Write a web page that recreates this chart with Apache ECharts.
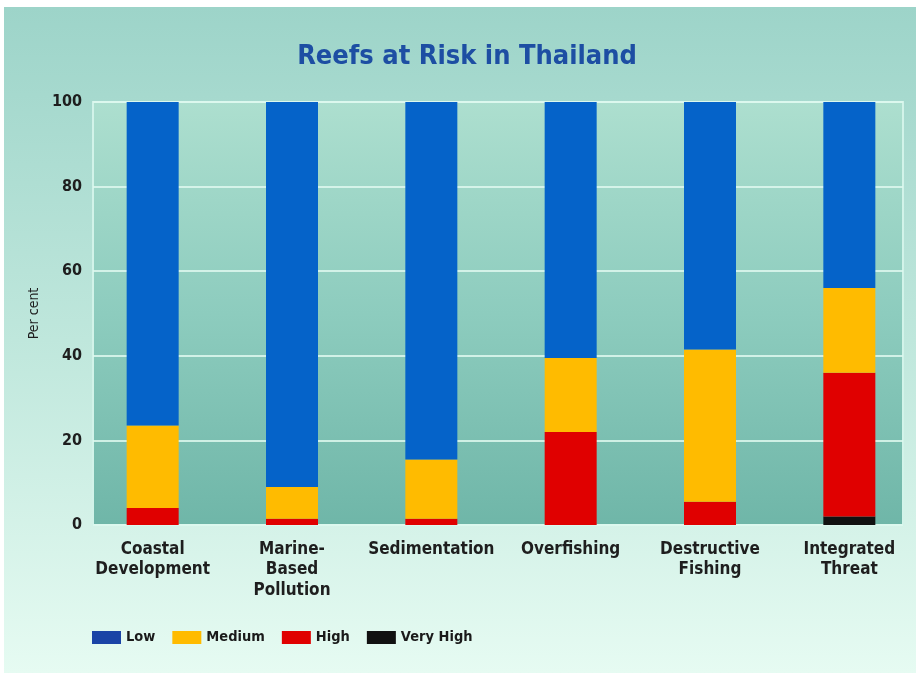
<!DOCTYPE html>
<html>
<head>
<meta charset="utf-8">
<script src="https://cdn.jsdelivr.net/npm/echarts@6/dist/echarts.min.js"></script>
<style>
  html, body { margin: 0; padding: 0; background: #ffffff; }
  #chart { width: 919px; height: 677px; }
</style>
</head>
<body>
<div id="chart"></div>
<script>
// Threat categories along the x axis
const categories = [
  'Coastal\nDevelopment',
  'Marine-\nBased\nPollution',
  'Sedimentation',
  'Overfishing',
  'Destructive\nFishing',
  'Integrated\nThreat'
];

// Share of reefs (per cent) at each risk level
const veryHigh = [0, 0, 0, 0, 0, 2];
const high     = [4, 1.5, 1.5, 22, 5.5, 34];
const medium   = [19.5, 7.5, 14, 17.5, 36, 20];
const low      = [76.5, 91, 84.5, 60.5, 58.5, 44];

const yTicks = [0, 20, 40, 60, 80, 100];

const FONT = '"Liberation Sans Narrow", "DejaVu Sans Condensed", "Liberation Sans", sans-serif';

const chart = echarts.init(document.getElementById('chart'), null, { renderer: 'canvas' });

const grad = (stops) => new echarts.graphic.LinearGradient(0, 0, 0, 1,
  stops.map(([offset, color]) => ({ offset, color })));

chart.setOption({
  backgroundColor: '#ffffff',
  animation: false,
  graphic: [{
    type: 'rect',
    z: -10,
    shape: { x: 4, y: 7, width: 912, height: 666 },
    style: { fill: grad([[0, '#9dd4c9'], [0.5, '#bfe7dc'], [1, '#e6fbf2']]) },
    silent: true
  }],
  title: {
    text: 'Reefs at Risk in Thailand',
    left: 462,
    textAlign: 'center',
    top: 38,
    textStyle: { fontFamily: FONT, fontSize: 27, fontWeight: 'bold', color: '#1d4ea3' }
  },
  legend: {
    left: 92,
    top: 630,
    padding: 0,
    itemWidth: 29,
    itemHeight: 13,
    itemGap: 17,
    icon: 'rect',
    textStyle: { fontFamily: FONT, fontSize: 14.5, fontWeight: 'bold', color: '#1a1a1a' },
    data: [
      { name: 'Low', itemStyle: { color: '#1a44a6' } },
      { name: 'Medium' },
      { name: 'High' },
      { name: 'Very High' }
    ]
  },
  grid: [
    // panel carrying the value scale and its gridlines
    {
      left: 93, top: 102, width: 810, height: 423,
      show: true,
      backgroundColor: grad([[0, '#addfcf'], [0.5, '#8dccbe'], [1, '#6fb6a8']]),
      borderColor: '#d2f3e9',
      borderWidth: 2
    },
    // bar band layout
    { left: 83, top: 102, width: 836, height: 423 }
  ],
  xAxis: [
    { gridIndex: 0, type: 'value', show: false, min: 0, max: 1 },
    {
      gridIndex: 1,
      type: 'category',
      data: categories,
      axisLine: { show: false },
      axisTick: { show: false },
      axisLabel: {
        margin: 14,
        interval: 0,
        fontFamily: FONT,
        fontSize: 17,
        fontWeight: 'bold',
        lineHeight: 20.5,
        color: '#1e1e1e',
        align: 'center'
      }
    }
  ],
  yAxis: [
    {
      gridIndex: 0,
      type: 'value',
      min: yTicks[0],
      max: yTicks[yTicks.length - 1],
      interval: 20,
      name: 'Per cent',
      nameLocation: 'middle',
      nameGap: 52,
      nameRotate: 90,
      nameTextStyle: { fontFamily: FONT, fontSize: 14, color: '#1e1e1e' },
      axisLine: { show: false },
      axisTick: { show: false },
      axisLabel: {
        margin: 11,
        fontFamily: FONT,
        fontSize: 16,
        fontWeight: 'bold',
        color: '#1e1e1e'
      },
      splitLine: { show: true, lineStyle: { color: 'rgba(222,248,238,0.85)', width: 2 } }
    },
    { gridIndex: 1, type: 'value', min: 0, max: 100, show: false, splitLine: { show: false } }
  ],
  series: [
    { name: 'Very High', type: 'bar', stack: 'risk', xAxisIndex: 1, yAxisIndex: 1, barWidth: 52,
      itemStyle: { color: '#111111' }, data: veryHigh },
    { name: 'High', type: 'bar', stack: 'risk', xAxisIndex: 1, yAxisIndex: 1, barWidth: 52,
      itemStyle: { color: '#e00000' }, data: high },
    { name: 'Medium', type: 'bar', stack: 'risk', xAxisIndex: 1, yAxisIndex: 1, barWidth: 52,
      itemStyle: { color: '#ffbb00' }, data: medium },
    { name: 'Low', type: 'bar', stack: 'risk', xAxisIndex: 1, yAxisIndex: 1, barWidth: 52,
      itemStyle: { color: '#0563c9' }, data: low }
  ]
});
</script>
</body>
</html>
